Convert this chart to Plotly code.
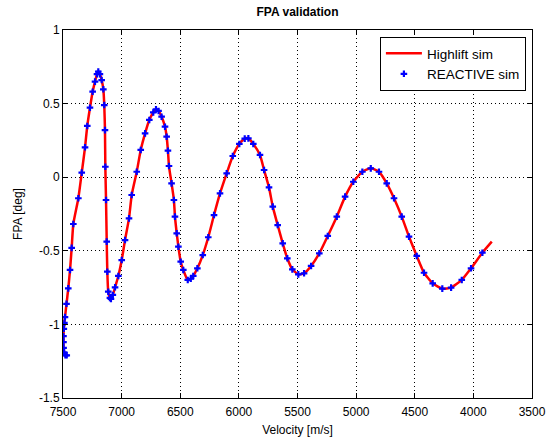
import plotly.graph_objects as go

# Highlift sim (line) — velocity [m/s] and FPA [deg]
highlift_velocity = [7468, 7480, 7490, 7495, 7496, 7496, 7493, 7488, 7483, 7470, 7455, 7440, 7426, 7412,
                     7369, 7340, 7312, 7293, 7270, 7247, 7227, 7210, 7199, 7185, 7170, 7156, 7148, 7142,
                     7139, 7133, 7127, 7122, 7114, 7100, 7091, 7075, 7056, 7028, 6999, 6971, 6937, 6914,
                     6871, 6837, 6800, 6764, 6730, 6707, 6685, 6659, 6630, 6616, 6605, 6596, 6574, 6554,
                     6545, 6530, 6516, 6496, 6474, 6436, 6410, 6389, 6354, 6308, 6261, 6212, 6161, 6104,
                     6052, 5996, 5950, 5919, 5877, 5820, 5785, 5743, 5711, 5669, 5626, 5587, 5544, 5493,
                     5444, 5384, 5314, 5242, 5165, 5094, 5024, 4947, 4875, 4805, 4739, 4677, 4611, 4549,
                     4483, 4421, 4347, 4265, 4190, 4099, 4020, 3923, 3843]
highlift_fpa = [-1.21, -1.21, -1.19, -1.16, -1.12, -1.08, -1.03, -0.99, -0.95, -0.86, -0.755, -0.63, -0.48, -0.318,
                -0.143, 0.031, 0.203, 0.348, 0.472, 0.581, 0.649, 0.70, 0.717, 0.70, 0.66, 0.597, 0.49, 0.32,
                0.071, -0.155, -0.438, -0.642, -0.778, -0.82, -0.827, -0.80, -0.748, -0.671, -0.563, -0.427, -0.28, -0.121,
                0.037, 0.185, 0.298, 0.389, 0.44, 0.461, 0.45, 0.411, 0.343, 0.275, 0.18, 0.076, -0.042, -0.155,
                -0.268, -0.381, -0.472, -0.574, -0.63, -0.698, -0.69, -0.671, -0.619, -0.529, -0.408, -0.257, -0.11, 0.026,
                0.144, 0.226, 0.262, 0.264, 0.226, 0.151, 0.049, -0.069, -0.2, -0.325, -0.449, -0.551, -0.626, -0.66,
                -0.653, -0.603, -0.517, -0.399, -0.268, -0.132, -0.031, 0.037, 0.06, 0.037, -0.042, -0.143, -0.268, -0.404,
                -0.535, -0.649, -0.721, -0.757, -0.75, -0.698, -0.619, -0.513, -0.438]

# REACTIVE sim (markers)
reactive_velocity = highlift_velocity[:-1]
reactive_fpa = highlift_fpa[:-1]

x_ticks = [7500, 7000, 6500, 6000, 5500, 5000, 4500, 4000, 3500]
y_ticks = [-1.5, -1, -0.5, 0, 0.5, 1]
y_tick_labels = ["-1.5", "-1", "-0.5", "0", "0.5", "1"]

FONT = "Liberation Sans, Arial, sans-serif"

fig = go.Figure()
fig.add_trace(go.Scatter(
    x=highlift_velocity, y=highlift_fpa, mode="lines", name="Highlift sim",
    line=dict(color="#ff0000", width=2.5, shape="spline", smoothing=0.5),
))
fig.add_trace(go.Scatter(
    x=reactive_velocity, y=reactive_fpa, mode="markers", name="REACTIVE sim",
    marker=dict(color="#0000ff", symbol="cross", size=5.5, line=dict(width=0)),
))

axis_common = dict(
    showline=True, linecolor="black", linewidth=1, mirror="ticks",
    ticks="inside", ticklen=5, tickcolor="black", tickwidth=1,
    showgrid=True, gridcolor="black", gridwidth=1, griddash="1px,3px",
    zeroline=False, automargin=False,
    tickfont=dict(family=FONT, size=12, color="black"),
)

W, H = 547, 441
fig.update_layout(
    width=W, height=H,
    margin=dict(l=63, r=15, t=30, b=43),
    paper_bgcolor="white", plot_bgcolor="white",
    font=dict(family=FONT, size=12, color="black"),
    title=dict(text="<b>FPA validation</b>", x=297.5 / W, xanchor="center",
               y=1 - 12 / H, yanchor="middle", font=dict(family=FONT, size=12, color="black")),
    xaxis=dict(range=[7500, 3500], tickvals=x_ticks, ticktext=[str(t) for t in x_ticks],
               ticklabelstandoff=3,
               title=dict(text="Velocity [m/s]", font=dict(family=FONT, size=12), standoff=7),
               **axis_common),
    yaxis=dict(range=[-1.5, 1], tickvals=y_ticks, ticktext=y_tick_labels,
               title=dict(text="FPA [deg]", font=dict(family=FONT, size=12), standoff=13),
               **axis_common),
    legend=dict(x=0.987, y=0.981, xanchor="right", yanchor="top",
                bgcolor="white", bordercolor="black", borderwidth=1,
                font=dict(family=FONT, size=13.5, color="black"),
                tracegroupgap=0, itemwidth=36),
    showlegend=True,
)

fig.write_html("out.html", config={"displayModeBar": False},
               post_script="document.body.style.margin='0';")
